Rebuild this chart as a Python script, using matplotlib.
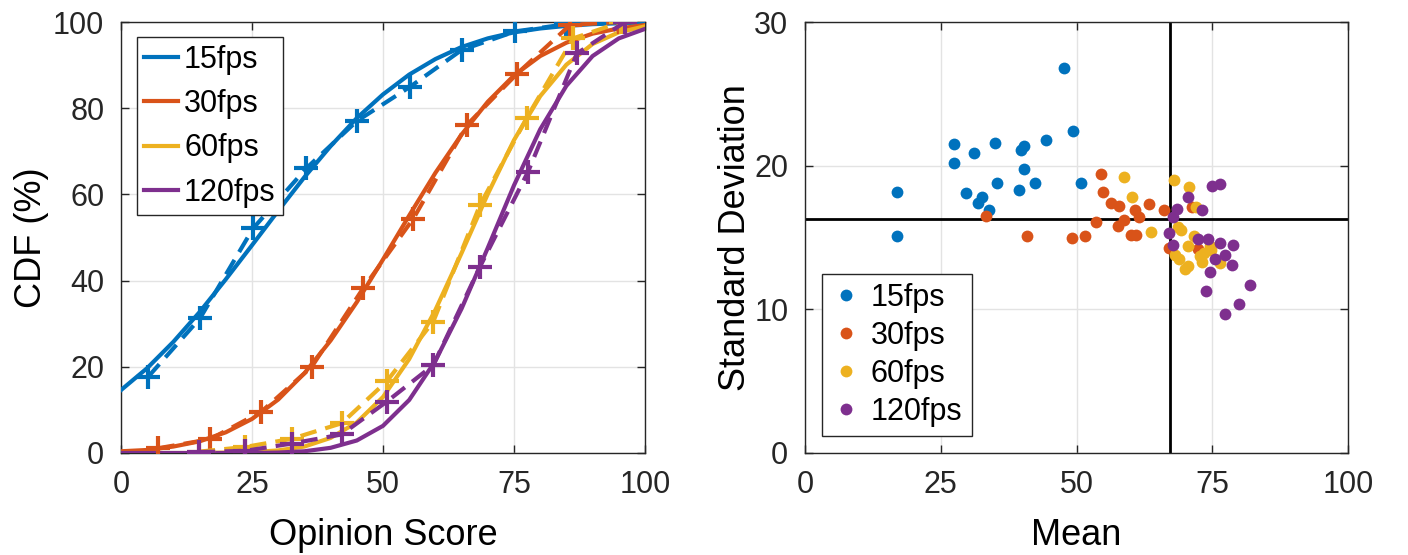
import numpy as np
import matplotlib.pyplot as plt

# cores padrao do MATLAB
cores = ['#0072BD', '#D95319', '#EDB120', '#7E2F8E']
rotulos = ['15fps', '30fps', '60fps', '120fps']

# ---- CDF: curvas ajustadas (lidas a cada 5 pontos) ----
x_ajuste = [0, 5, 10, 15, 20, 25, 30, 35, 40, 45, 50, 55, 60, 65, 70, 75, 80, 85, 90, 95, 100]
cdf_15 = [14.6, 19.7, 25.8, 32.7, 40.3, 48.2, 56.2, 64.0, 71.2, 77.7, 83.2, 87.8, 91.4, 94.2,
          96.2, 97.6, 98.5, 99.1, 99.5, 99.7, 99.9]
cdf_30 = [0.4, 0.7, 1.5, 2.7, 4.8, 7.9, 12.4, 18.5, 26.1, 35.0, 44.9, 55.1, 65.0, 73.9,
          81.5, 87.6, 92.1, 95.2, 97.3, 98.5, 99.3]
cdf_60 = [0.0, 0.0, 0.0, 0.0, 0.1, 0.2, 0.6, 1.5, 3.5, 7.1, 13.0, 21.8, 33.2, 46.4,
          60.1, 72.6, 82.8, 90.1, 94.9, 97.6, 99.0]
cdf_120 = [0.0, 0.0, 0.0, 0.0, 0.0, 0.0, 0.1, 0.4, 1.2, 2.9, 6.3, 12.3, 21.4, 33.5,
           47.6, 62.1, 75.1, 85.2, 92.1, 96.2, 98.4]

# ---- CDF empirica (marcadores +) ----
emp_x_15 = [5.2, 15.1, 25.2, 35.4, 45.0, 55.2, 65.0, 75.2, 85.0, 95.0]
emp_y_15 = [17.7, 31.3, 52.1, 66.1, 77.0, 85.0, 93.5, 97.8, 99.5, 100.0]
emp_x_30 = [7.1, 17.0, 26.8, 36.4, 46.2, 55.8, 66.0, 75.5, 85.7, 95.0]
emp_y_30 = [1.1, 3.2, 9.6, 20.0, 38.2, 54.4, 76.1, 87.9, 99.3, 100.0]
emp_x_60 = [14.8, 23.7, 32.6, 42.1, 50.7, 59.6, 68.5, 77.4, 86.3, 95.5]
emp_y_60 = [0.3, 1.4, 3.3, 6.9, 16.6, 30.5, 57.5, 77.7, 96.2, 100.0]
emp_x_120 = [14.8, 23.7, 32.6, 42.1, 50.7, 59.6, 68.5, 77.7, 87.0, 96.2]
emp_y_120 = [0.2, 0.5, 2.2, 4.3, 11.9, 20.4, 43.2, 65.3, 92.7, 100.0]

# ---- media x desvio padrao ----
media_15 = [47.7, 49.4, 27.4, 27.4, 31.2, 35.0, 39.7, 40.4, 44.3, 40.4,
            17.0, 17.0, 29.7, 35.4, 39.5, 42.3, 50.8, 32.6, 31.8, 33.8]
dp_15 = [26.8, 22.4, 21.5, 20.2, 20.9, 21.6, 21.1, 21.4, 21.8, 19.8,
         18.2, 15.1, 18.1, 18.8, 18.3, 18.8, 18.8, 17.8, 17.4, 16.9]
media_30 = [54.6, 54.9, 56.4, 57.8, 63.4, 66.2, 60.8, 61.5, 58.7, 57.6,
            53.5, 60.0, 60.9, 51.6, 49.2, 40.8, 33.3, 71.2, 67.1, 72.4]
dp_30 = [19.4, 18.2, 17.4, 17.2, 17.3, 16.9, 16.9, 16.4, 16.2, 15.8,
         16.1, 15.2, 15.2, 15.1, 15.0, 15.1, 16.5, 17.1, 14.3, 14.2]
media_60 = [58.8, 60.3, 63.7, 67.9, 70.7, 72.0, 68.7, 69.3, 71.7, 70.6,
            74.5, 74.8, 68.1, 68.9, 70.5, 70.0, 72.7, 73.1, 76.4, 73.4]
dp_60 = [19.2, 17.8, 15.4, 19.0, 18.5, 17.1, 15.7, 15.5, 15.1, 14.4,
         14.4, 14.1, 13.8, 13.5, 13.0, 12.8, 13.7, 13.3, 13.2, 13.9]
media_120 = [75.0, 76.4, 70.5, 68.5, 73.1, 67.8, 67.0, 67.8, 72.4, 74.3,
             76.4, 78.9, 77.3, 75.5, 78.7, 74.6, 73.9, 82.0, 80.0, 77.3]
dp_120 = [18.6, 18.7, 17.8, 17.0, 16.9, 16.4, 15.3, 14.5, 14.9, 14.9,
          14.6, 14.5, 13.8, 13.5, 13.1, 12.6, 11.3, 11.7, 10.4, 9.7]

media_geral = 67.2
dp_geral = 16.3

plt.rcParams['font.family'] = ['Liberation Sans', 'DejaVu Sans']
plt.rcParams['axes.edgecolor'] = '#262626'
plt.rcParams['xtick.color'] = '#262626'
plt.rcParams['ytick.color'] = '#262626'

fig = plt.figure(figsize=(14.08, 5.55), dpi=100)
W, H = 1408, 555
ax1 = fig.add_axes([121 / W, 1 - 453 / H, (645 - 121) / W, (453 - 22) / H])
ax2 = fig.add_axes([805 / W, 1 - 453 / H, (1348 - 805) / W, (453 - 22) / H])

curvas = [cdf_15, cdf_30, cdf_60, cdf_120]
emp_x = [emp_x_15, emp_x_30, emp_x_60, emp_x_120]
emp_y = [emp_y_15, emp_y_30, emp_y_60, emp_y_120]

handles = []
for i in range(4):
    h, = ax1.plot(x_ajuste, curvas[i], color=cores[i], lw=3, label=rotulos[i], zorder=3)
    handles.append(h)
    ax1.plot(emp_x[i], emp_y[i], color=cores[i], lw=3, ls=(0, (4, 2.2)),
             marker='+', ms=17, mew=3, zorder=4)

ax1.set_xlim(0, 100)
ax1.set_ylim(0, 100)
ax1.set_xticks([0, 25, 50, 75, 100])
ax1.set_yticks([0, 20, 40, 60, 80, 100])
ax1.set_xlabel('Opinion Score', fontsize=26, labelpad=13)
ax1.set_ylabel('CDF (%)', fontsize=26, labelpad=3)
ax1.legend(handles=handles, loc='upper left', bbox_to_anchor=(0.03, 0.965), borderaxespad=0,
           fontsize=22, handlelength=1.1, handletextpad=0.2, labelspacing=0.47,
           borderpad=0.25, fancybox=False, edgecolor='#262626', framealpha=1)

medias = [media_15, media_30, media_60, media_120]
dps = [dp_15, dp_30, dp_60, dp_120]
ax2.axhline(dp_geral, color='black', lw=2, zorder=2)
ax2.axvline(media_geral, color='black', lw=2, zorder=2)
for i in range(4):
    ax2.plot(medias[i], dps[i], 'o', color=cores[i], ms=8.5, mec='none', label=rotulos[i], zorder=3)

ax2.set_xlim(0, 100)
ax2.set_ylim(0, 30)
ax2.set_xticks([0, 25, 50, 75, 100])
ax2.set_yticks([0, 10, 20, 30])
ax2.set_xlabel('Mean', fontsize=26, labelpad=13)
ax2.set_ylabel('Standard Deviation', fontsize=26, labelpad=1)
ax2.legend(loc='lower left', bbox_to_anchor=(0.031, 0.039), borderaxespad=0,
           fontsize=22, handlelength=1.0, handletextpad=0.3, labelspacing=0.26,
           borderpad=0.3, fancybox=False, edgecolor='#262626', framealpha=1)

for ax in (ax1, ax2):
    ax.grid(True, color='#e3e3e3', lw=1)
    ax.set_axisbelow(True)
    ax.tick_params(direction='in', length=6, width=1, labelsize=22, top=True, right=True, pad=12)
    for s in ax.spines.values():
        s.set_linewidth(1)

fig.savefig('out.png', dpi=100)
